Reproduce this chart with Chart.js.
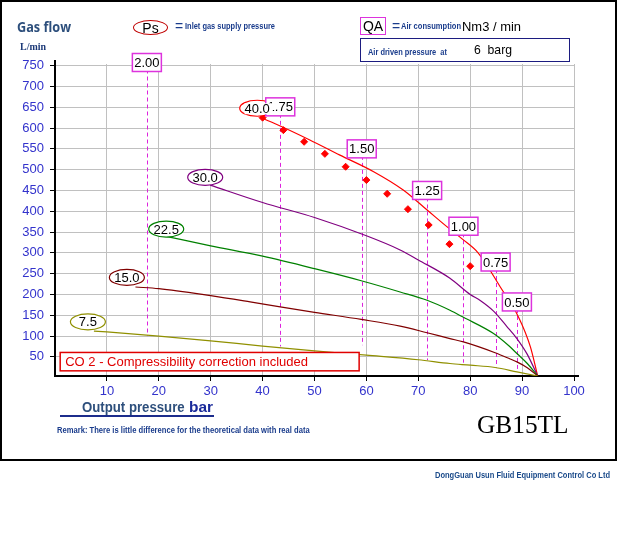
<!DOCTYPE html>
<html>
<head>
<meta charset="utf-8">
<script src="https://cdn.jsdelivr.net/npm/chart.js@4.4.0/dist/chart.umd.min.js"></script>
<style>
  html, body { margin: 0; padding: 0; background: #fff; }
  #wrap { position: relative; width: 619px; height: 539px; overflow: hidden; }
  #frame { position: absolute; left: 0; top: 0; width: 617px; height: 461px; box-sizing: border-box; border: 2px solid #000; }
  canvas { position: absolute; left: 0; top: 0; }
  .t { position: absolute; white-space: pre; line-height: 1; transform-origin: 0 0;
       font-family: Arial, "Liberation Sans", sans-serif; }
  .small { font-size: 9.5px; font-weight: bold; color: #1a3c8c; }
  .ell { position: absolute; box-sizing: border-box; border-radius: 50%; display: flex;
         align-items: center; justify-content: center; font: 14px Arial, "Liberation Sans", sans-serif; color: #000; }
</style>
</head>
<body>
<div id="wrap">
  <div id="frame"></div>
  <canvas id="chart" width="619" height="539"></canvas>

  <div class="t" style="left:17px;top:16px;font:bold 15px 'Open Sans',sans-serif;color:#2d4f7c" data-w="54">Gas flow</div>
  <div class="t" style="left:19.5px;top:40.6px;font:bold 10px 'Liberation Serif',serif;color:#1d3a78" data-w="26">L/min</div>

  <div class="ell" style="left:133px;top:20px;width:35px;height:15px;border:1px solid #c00000">Ps</div>
  <div class="t" style="left:175px;top:19.3px;font-size:14px;color:#1a3c8c">=</div>
  <div class="t small" style="left:185px;top:21.3px" data-w="90">Inlet gas supply pressure</div>

  <div class="ell" style="left:360px;top:17px;width:26px;height:18px;border:1px solid #dd33dd;border-radius:0">QA</div>
  <div class="t" style="left:392px;top:19.3px;font-size:14px;color:#1a3c8c">=</div>
  <div class="t small" style="left:401px;top:21.3px" data-w="60">Air consumption</div>
  <div class="t" style="left:461.7px;top:19.7px;font-size:13px;color:#000" data-w="59">Nm3 / min</div>

  <div style="position:absolute;left:360px;top:38px;width:210px;height:24px;box-sizing:border-box;border:1.5px solid #1c1c80"></div>
  <div class="t small" style="left:367.7px;top:46.5px" data-w="79">Air driven pressure  at</div>
  <div class="t" style="left:474.3px;top:43px;font-size:13px;color:#000" data-w="38">6  barg</div>

  <div class="t" style="left:81.7px;top:399.9px;font-size:14px;font-weight:bold;color:#2d4f7c" data-w="102.6">Output pressure</div>
  <div class="t" style="left:189.3px;top:399.9px;font-size:14px;font-weight:bold;color:#1a2a9a" data-w="24">bar</div>
  <div style="position:absolute;left:60px;top:414.5px;width:154px;height:2px;background:#1c2c8c"></div>
  <div class="t" style="left:57.3px;top:426.4px;font-size:9px;font-weight:bold;color:#1a3c8c" data-w="252.7">Remark: There is little difference for the theoretical data with real data</div>

  <div class="t" style="left:476.7px;top:411.4px;font:25px 'Liberation Serif','Times New Roman',serif;color:#000" data-w="91.6">GB15TL</div>
  <div class="t small" style="left:435px;top:469.7px;color:#1a4a8a" data-w="175">DongGuan Usun Fluid Equipment Control Co Ltd</div>
</div>

<script>
// axis ticks
const xTicks = [10, 20, 30, 40, 50, 60, 70, 80, 90, 100];
const yTicks = [50, 100, 150, 200, 250, 300, 350, 400, 450, 500, 550, 600, 650, 700, 750];

// Ps curves (inlet gas pressure), output pressure vs gas flow
const psLabels = ['7.5', '15.0', '22.5', '30.0', '40.0'];
const ps75X = [7.5, 10, 20, 30, 40, 50, 60, 70, 76.1, 80, 84.8, 89, 93];
const ps75Y = [112, 110, 100, 88.5, 76, 64.5, 54, 43, 34, 30, 24.5, 14, 4];
const ps150X = [15.5, 20, 30, 37.6, 43.4, 50, 59, 66.5, 71.7, 76.1, 78.7, 84.8, 87.7, 89, 91, 93];
const ps150Y = [218, 214, 197, 182, 170, 157, 140, 124, 108, 94, 86, 60, 45, 38, 24, 4];
const ps225X = [21.6, 30, 40, 50, 59, 66.5, 71.7, 76.1, 78.7, 84.5, 87.5, 89, 91, 93];
const ps225Y = [339, 317, 292, 262, 233, 206, 186, 162, 145, 106, 76, 58, 34, 4];
const ps300X = [29.9, 40, 50, 60, 66.5, 70, 76.1, 80, 82, 84.5, 87, 89, 91, 93];
const ps300Y = [463, 421, 385, 341, 307, 283, 239, 200, 185, 160, 124, 94, 56, 4];
const ps400X = [39.9, 43.4, 49, 54.9, 61.4, 67.1, 71.7, 75.8, 78.5, 81.6, 85.8, 89.3, 91.6, 93];
const ps400Y = [623.5, 605, 572, 535, 495, 451, 403, 360, 333, 299, 218, 146, 74, 4];

// Ps label anchors
const psLabelX = [6.34, 13.85, 21.43, 28.94, 38.96];
const psLabelY = [134.2, 241, 357.2, 481.6, 647.6];

// red points
const dotX = [40, 44, 48, 52, 56, 60, 64, 68, 72, 76, 80];
const dotY = [625, 595, 567, 538, 507, 475, 442, 405, 367, 321, 268];

// QA (air consumption) markers
const qaLabels = ['2.00', '1.75', '1.50', '1.25', '1.00', '0.75', '0.50'];
const qaX = [17.7, 43.4, 59.1, 71.7, 78.7, 84.9, 89];
const qaTop = [757.6, 651, 550, 450, 364, 278, 182];
const qaBottom = [100, 75, 78, 42, 36, 24, 14];

const psColors = ['#909000', '#800000', '#008000', '#800080', '#ff0000'];
const FONT = "13px Arial, 'Liberation Sans', sans-serif";

function curve(xs, ys, color) {
  return {
    data: xs.map((x, i) => ({ x: x, y: ys[i] })),
    borderColor: color,
    borderWidth: 1.2,
    pointRadius: 0,
    fill: false,
    cubicInterpolationMode: 'monotone'
  };
}

const annot = {
  id: 'annot',
  beforeDatasetsDraw(chart) {
    const c = chart.ctx, sx = chart.scales.x, sy = chart.scales.y;
    const a = chart.chartArea;
    c.save();
    // axis lines run a little past the plot, like the original
    c.strokeStyle = '#000';
    c.lineWidth = 2;
    c.beginPath();
    c.moveTo(a.right - 1, a.bottom);
    c.lineTo(a.right + 5, a.bottom);
    c.moveTo(a.left, a.top + 1);
    c.lineTo(a.left, a.top - 4);
    c.stroke();

    c.strokeStyle = '#dd22dd';
    c.lineWidth = 1;
    c.setLineDash([4, 3]);
    qaX.forEach((v, i) => {
      const px = Math.round(sx.getPixelForValue(v)) + 0.5;
      c.beginPath();
      c.moveTo(px, sy.getPixelForValue(qaTop[i]));
      c.lineTo(px, sy.getPixelForValue(qaBottom[i]));
      c.stroke();
    });
    c.restore();
  },
  afterDatasetsDraw(chart) {
    const c = chart.ctx, sx = chart.scales.x, sy = chart.scales.y;
    c.save();
    c.font = FONT;
    c.textAlign = 'center';
    c.textBaseline = 'middle';

    // ellipses
    psLabels.forEach((t, i) => {
      const px = sx.getPixelForValue(psLabelX[i]), py = sy.getPixelForValue(psLabelY[i]);
      c.beginPath();
      c.ellipse(px, py, 17.5, 8, 0, 0, Math.PI * 2);
      c.fillStyle = '#fff';
      c.fill();
      c.strokeStyle = psColors[i];
      c.lineWidth = 1.2;
      c.stroke();
    });

    // QA boxes
    const boxes = [];
    qaLabels.forEach((t, i) => {
      const px = sx.getPixelForValue(qaX[i]), py = sy.getPixelForValue(qaTop[i]);
      boxes.push([px - 14.5, py - 9, px + 14.5, py + 9]);
      c.fillStyle = '#fff';
      c.fillRect(px - 14.5, py - 9, 29, 18);
      c.strokeStyle = '#dd33dd';
      c.lineWidth = 1.5;
      c.strokeRect(px - 14.5, py - 9, 29, 18);
      c.fillStyle = '#000';
      c.fillText(t, px, py + 1);
    });

    // ellipse texts; where one runs into a box it is opaque (40.0 hides the "1" of 1.75)
    psLabels.forEach((t, i) => {
      const px = sx.getPixelForValue(psLabelX[i]), py = sy.getPixelForValue(psLabelY[i]);
      const w = c.measureText(t).width;
      const hit = boxes.some(b => px + w / 2 > b[0] && px - w / 2 < b[2] && py + 6 > b[1] && py - 5 < b[3]);
      if (hit) {
        c.fillStyle = '#fff';
        c.fillRect(px - w / 2, py - 5, w + 3, 11);
      }
      c.fillStyle = '#000';
      c.fillText(t, px, py + 1);
    });

    // CO2 note
    const x0 = sx.getPixelForValue(1), x1 = sx.getPixelForValue(58.6);
    const y0 = sy.getPixelForValue(60.6), y1 = sy.getPixelForValue(16.4);
    c.fillStyle = '#fff';
    c.fillRect(x0, y0, x1 - x0, y1 - y0);
    c.strokeStyle = '#e00000';
    c.lineWidth = 1.5;
    c.strokeRect(x0, y0, x1 - x0, y1 - y0);
    c.fillStyle = '#e00000';
    c.textAlign = 'left';
    c.fillText('CO 2 - Compressibility correction included', x0 + 5, (y0 + y1) / 2 + 1);
    c.restore();
  }
};

new Chart(document.getElementById('chart'), {
  type: 'line',
  data: {
    datasets: [
      {
        data: dotX.map((x, i) => ({ x: x, y: dotY[i] })),
        showLine: false,
        pointStyle: 'rectRot',
        pointRadius: 3.5,
        pointBackgroundColor: '#ff0000',
        pointBorderColor: '#ff0000',
        pointBorderWidth: 1
      },
      curve(ps75X, ps75Y, psColors[0]),
      curve(ps150X, ps150Y, psColors[1]),
      curve(ps225X, ps225Y, psColors[2]),
      curve(ps300X, ps300Y, psColors[3]),
      curve(ps400X, ps400Y, psColors[4])
    ]
  },
  options: {
    responsive: false,
    animation: false,
    events: [],
    layout: { padding: { left: 0, right: 45, top: 64, bottom: 133 } },
    plugins: { legend: { display: false }, tooltip: { enabled: false } },
    scales: {
      x: {
        type: 'linear', min: 0, max: 100,
        afterBuildTicks: s => { s.ticks = xTicks.map(v => ({ value: v })); },
        afterFit: s => { s.height = 30; },
        grid: { color: '#c0c0c0', lineWidth: 1, tickColor: '#000', tickLength: 5 },
        border: { color: '#000', width: 2 },
        ticks: { color: '#3333cc', font: { family: "Arial, 'Liberation Sans', sans-serif", size: 13 }, padding: 3 }
      },
      y: {
        type: 'linear', min: 4, max: 754,
        afterBuildTicks: s => { s.ticks = yTicks.map(v => ({ value: v })); },
        afterFit: s => { s.width = 55; },
        grid: { color: '#c0c0c0', lineWidth: 1, tickColor: '#000', tickLength: 5 },
        border: { color: '#000', width: 2 },
        ticks: { color: '#3333cc', font: { family: "Arial, 'Liberation Sans', sans-serif", size: 13 }, padding: 6 }
      }
    }
  },
  plugins: [annot]
});

// squeeze the narrow header/footer texts to their widths
document.querySelectorAll('.t[data-w]').forEach(el => {
  const w = el.getBoundingClientRect().width;
  el.style.transform = 'scaleX(' + (parseFloat(el.dataset.w) / w) + ')';
});
</script>
</body>
</html>
